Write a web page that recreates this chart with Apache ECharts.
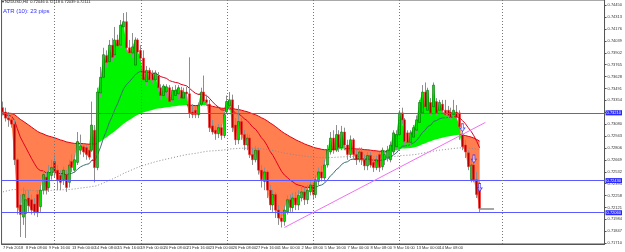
<!DOCTYPE html>
<html><head><meta charset="utf-8">
<script src="https://cdn.jsdelivr.net/npm/echarts@6/dist/echarts.min.js"></script>
<style>html,body{margin:0;padding:0;background:#fff}#c{width:625px;height:252px}</style>
</head><body><div id="c"></div>
<script>
const TITLE = '\u25BE NZDUSD,H4  0.72046 0.72118 0.72039 0.72111';
const ATR_TEXT = 'ATR (10): 23 pips';

const open = [
0.7327,0.7322,0.7315,0.7313,0.7308,0.7267,0.7215,0.7201,0.7205,0.7223,
0.7221,0.7216,0.7227,0.7213,0.7232,0.7247,0.7235,0.7249,0.7265,0.7255,
0.7249,0.7244,0.7250,0.7241,0.7265,0.7255,0.7264,0.7278,0.7282,0.7281,
0.7278,0.7278,0.7301,0.7258,0.7344,0.7362,0.7387,0.7380,0.7399,0.7388,
0.7405,0.7399,0.7420,0.7426,0.7396,0.7390,0.7376,0.7405,0.7393,0.7384,
0.7357,0.7370,0.7366,0.7359,0.7364,0.7350,0.7341,0.7345,0.7350,0.7336,
0.7341,0.7343,0.7347,0.7338,0.7345,0.7343,0.7322,0.7324,0.7319,0.7331,
0.7345,0.7336,0.7331,0.7306,0.7301,0.7297,0.7304,0.7295,0.7322,0.7329,
0.7336,0.7307,0.7290,0.7311,0.7296,0.7284,0.7292,0.7273,0.7267,0.7278,
0.7255,0.7242,0.7253,0.7232,0.7215,0.7227,0.7209,0.7200,0.7196,0.7207,
0.7221,0.7212,0.7223,0.7215,0.7223,0.7230,0.7221,0.7230,0.7238,0.7227,
0.7242,0.7253,0.7246,0.7261,0.7276,0.7292,0.7278,0.7296,0.7281,0.7299,
0.7284,0.7273,0.7290,0.7273,0.7267,0.7276,0.7267,0.7260,0.7272,0.7264,
0.7258,0.7273,0.7259,0.7267,0.7269,0.7267,0.7276,0.7282,0.7296,0.7321,
0.7313,0.7298,0.7287,0.7293,0.7301,0.7310,0.7321,0.7345,0.7324,0.7333,
0.7328,0.7334,0.7324,0.7331,0.7324,0.7324,0.7322,0.7319,0.7322,0.7321,
0.7296,0.7284,0.7275,0.7244,0.7261,0.7244,0.7235];
const high = [
0.7334,0.7327,0.7322,0.7320,0.7313,0.7269,0.7227,0.7235,0.7232,0.7232,
0.7227,0.7223,0.7232,0.7238,0.7255,0.7253,0.7261,0.7267,0.7273,0.7261,
0.7255,0.7259,0.7255,0.7267,0.7273,0.7273,0.7299,0.7296,0.7284,0.7284,
0.7283,0.7334,0.7307,0.7350,0.7374,0.7396,0.7393,0.7405,0.7407,0.7420,
0.7411,0.7428,0.7436,0.7437,0.7405,0.7413,0.7408,0.7407,0.7399,0.7393,
0.7375,0.7373,0.7370,0.7370,0.7368,0.7354,0.7354,0.7354,0.7353,0.7351,
0.7353,0.7353,0.7351,0.7350,0.7351,0.7385,0.7331,0.7329,0.7333,0.7350,
0.7364,0.7342,0.7336,0.7313,0.7306,0.7308,0.7308,0.7322,0.7341,0.7345,
0.7342,0.7315,0.7330,0.7315,0.7301,0.7297,0.7296,0.7281,0.7283,0.7281,
0.7261,0.7258,0.7255,0.7238,0.7232,0.7230,0.7215,0.7207,0.7215,0.7226,
0.7227,0.7229,0.7230,0.7232,0.7237,0.7235,0.7238,0.7244,0.7242,0.7249,
0.7258,0.7260,0.7267,0.7284,0.7299,0.7301,0.7307,0.7301,0.7306,0.7304,
0.7290,0.7295,0.7292,0.7278,0.7281,0.7281,0.7273,0.7276,0.7276,0.7269,
0.7272,0.7276,0.7281,0.7278,0.7283,0.7288,0.7301,0.7301,0.7324,0.7327,
0.7315,0.7301,0.7301,0.7307,0.7318,0.7336,0.7353,0.7356,0.7350,0.7338,
0.7356,0.7338,0.7336,0.7336,0.7336,0.7329,0.7327,0.7336,0.7330,0.7324,
0.7301,0.7290,0.7278,0.7267,0.7267,0.7253,0.7242];
const low = [
0.7318,0.7311,0.7305,0.7304,0.7261,0.7204,0.7178,0.7192,0.7177,0.7207,
0.7204,0.7203,0.7201,0.7207,0.7227,0.7227,0.7230,0.7244,0.7246,0.7232,
0.7232,0.7238,0.7230,0.7235,0.7253,0.7252,0.7261,0.7273,0.7270,0.7267,
0.7267,0.7276,0.7241,0.7255,0.7339,0.7359,0.7373,0.7375,0.7380,0.7385,
0.7393,0.7396,0.7407,0.7391,0.7382,0.7384,0.7373,0.7388,0.7380,0.7356,
0.7353,0.7354,0.7354,0.7352,0.7345,0.7336,0.7338,0.7339,0.7331,0.7333,
0.7336,0.7336,0.7334,0.7333,0.7337,0.7315,0.7315,0.7315,0.7315,0.7329,
0.7331,0.7329,0.7299,0.7296,0.7290,0.7292,0.7290,0.7292,0.7320,0.7324,
0.7299,0.7284,0.7285,0.7290,0.7278,0.7278,0.7269,0.7261,0.7264,0.7250,
0.7235,0.7232,0.7223,0.7209,0.7207,0.7200,0.7192,0.7189,0.7191,0.7204,
0.7207,0.7207,0.7209,0.7209,0.7219,0.7215,0.7216,0.7226,0.7221,0.7223,
0.7237,0.7242,0.7242,0.7258,0.7273,0.7274,0.7276,0.7276,0.7278,0.7278,
0.7267,0.7269,0.7267,0.7261,0.7264,0.7261,0.7255,0.7255,0.7258,0.7253,
0.7255,0.7253,0.7255,0.7261,0.7265,0.7264,0.7273,0.7278,0.7293,0.7308,
0.7284,0.7282,0.7283,0.7290,0.7298,0.7307,0.7319,0.7324,0.7320,0.7318,
0.7324,0.7318,0.7321,0.7321,0.7315,0.7315,0.7313,0.7315,0.7313,0.7290,
0.7278,0.7269,0.7255,0.7241,0.7241,0.7223,0.7206];
const close = [
0.7322,0.7315,0.7313,0.7308,0.7267,0.7212,0.7204,0.7227,0.7221,0.7214,
0.7209,0.7207,0.7206,0.7232,0.7250,0.7232,0.7253,0.7258,0.7253,0.7244,
0.7241,0.7255,0.7235,0.7261,0.7258,0.7267,0.7288,0.7283,0.7276,0.7273,
0.7270,0.7307,0.7258,0.7345,0.7362,0.7388,0.7379,0.7399,0.7385,0.7405,
0.7398,0.7422,0.7426,0.7396,0.7390,0.7397,0.7405,0.7391,0.7384,0.7359,
0.7370,0.7359,0.7359,0.7367,0.7350,0.7341,0.7352,0.7351,0.7334,0.7347,
0.7347,0.7350,0.7338,0.7345,0.7343,0.7321,0.7319,0.7319,0.7330,0.7345,
0.7334,0.7333,0.7304,0.7299,0.7297,0.7304,0.7295,0.7319,0.7334,0.7336,
0.7304,0.7290,0.7311,0.7296,0.7284,0.7292,0.7273,0.7267,0.7278,0.7255,
0.7244,0.7253,0.7232,0.7215,0.7227,0.7209,0.7200,0.7196,0.7209,0.7221,
0.7212,0.7223,0.7215,0.7226,0.7230,0.7221,0.7232,0.7238,0.7227,0.7244,
0.7253,0.7246,0.7261,0.7278,0.7292,0.7278,0.7296,0.7281,0.7299,0.7284,
0.7273,0.7290,0.7273,0.7267,0.7276,0.7267,0.7260,0.7272,0.7261,0.7258,
0.7267,0.7258,0.7278,0.7273,0.7278,0.7284,0.7298,0.7296,0.7321,0.7313,
0.7288,0.7287,0.7298,0.7304,0.7313,0.7333,0.7345,0.7328,0.7347,0.7321,
0.7353,0.7321,0.7333,0.7324,0.7319,0.7318,0.7316,0.7324,0.7316,0.7305,
0.7282,0.7276,0.7259,0.7261,0.7244,0.7227,0.7211];

const timeLabels = ['7 Feb 2018','8 Feb 08:00','9 Feb 16:00','13 Feb 00:00','14 Feb 08:00','15 Feb 16:00',
'19 Feb 00:00','20 Feb 08:00','21 Feb 16:00','23 Feb 00:00','26 Feb 08:00','27 Feb 16:00','1 Mar 00:00',
'2 Mar 08:00','5 Mar 16:00','7 Mar 00:00','8 Mar 08:00','9 Mar 16:00','13 Mar 00:00','14 Mar 08:00','15 Mar 16:00'];
const yTicks = [0.74450,0.74313,0.74176,0.74039,0.73902,0.73765,0.73628,0.73491,0.73354,0.73217,0.73080,
0.72943,0.72806,0.72669,0.72532,0.72395,0.72258,0.72121,0.71984,0.71847,0.71710];
const hLevels = [0.7321, 0.7243, 0.7206];
const lastPrice = 0.72111;
const separators = [18, 48, 78, 108, 138, 174];
const trendX = [98, 168];
const trendY = [0.7189, 0.7310];
const arrowX = [160, 164, 166];
const arrowY = [0.7304, 0.7268, 0.7235];
// moving-average seeds read at the left edge of the picture
const slowSeed = 0.7321, slowPeriod = 80;
const midSeed = 0.7319, midPeriod = 20;
const longSeed = 0.7230, longPeriod = 200;

const SLOTS = 210, LABEL_STEP = 8;
function ema(src, seed, period) {
  const a = 2 / (period + 1); const out = []; let v = seed;
  for (let i = 0; i < src.length; i++) { if (i > 0) v = v + a * (src[i] - v); out.push(v); }
  return out;
}
const slow = ema(close, slowSeed, slowPeriod);
const mid = ema(close, midSeed, midPeriod);
const longMa = ema(close, longSeed, longPeriod);
const cats = Array.from({length: SLOTS}, (_, i) => (i % LABEL_STEP === 0 && i / LABEL_STEP < timeLabels.length) ? timeLabels[i / LABEL_STEP] : '');
const isLabel = (i) => i % LABEL_STEP === 0 && i / LABEL_STEP < timeLabels.length;

const base = close.map((c, i) => Math.min(c, slow[i]));
const gUp = close.map((c, i) => Math.max(c - slow[i], 0));
const oDn = close.map((c, i) => Math.max(slow[i] - c, 0));
const below = close.map((c, i) => c < slow[i]);
const slowRed = slow.map((v, i) => (below[i] || below[i - 1] || below[i + 1]) ? v : '-');
const upSeg = mid.map((v, i) => i > 0 && v >= mid[i - 1]);
const midUp = mid.map((v, i) => (upSeg[i] || upSeg[i + 1]) ? v : '-');
const midDn = mid.map((v, i) => ((i > 0 && !upSeg[i]) || (i + 1 < mid.length && !upSeg[i + 1])) ? v : '-');

const FONT = 'Liberation Sans';
const priceLabel = (bg) => ({show: true, position: 'end', distance: 1, formatter: (p) => Number(p.value).toFixed(5),
  fontSize: 4, color: '#fff', backgroundColor: bg, padding: [1, 1, 0, 1], fontFamily: FONT});
const chart = echarts.init(document.getElementById('c'), null, {renderer: 'canvas'});
chart.setOption({
  animation: false,
  backgroundColor: '#fff',
  title: [
    {text: TITLE, left: 2, top: 0, padding: 0, textStyle: {fontSize: 4, fontWeight: 'normal', color: '#222', fontFamily: FONT}},
    {text: ATR_TEXT, left: 3, top: 8, padding: 0, textStyle: {fontSize: 6, fontWeight: 'normal', color: '#3030ff', fontFamily: FONT}}
  ],
  grid: {left: 0, top: 0, right: 16, bottom: 8, show: true, borderColor: '#555', borderWidth: 1},
  xAxis: {
    type: 'category', data: cats, boundaryGap: true,
    axisLine: {lineStyle: {color: '#555'}},
    axisTick: {alignWithLabel: true, interval: (i) => isLabel(i), length: 3, lineStyle: {color: '#555'}},
    axisLabel: {interval: (i) => isLabel(i), fontSize: 4, color: '#333', align: 'left', margin: 2, fontFamily: FONT}
  },
  yAxis: {
    type: 'value', position: 'right', min: 0.7170, max: 0.7451,
    axisLine: {show: true, lineStyle: {color: '#555'}},
    axisTick: {show: true, length: 2, customValues: yTicks, lineStyle: {color: '#555'}},
    axisLabel: {customValues: yTicks, fontSize: 4, color: '#333', margin: 3, fontFamily: FONT, formatter: (v) => v.toFixed(5)},
    splitLine: {show: false}
  },
  series: [
    {type: 'line', name: 'base', data: base, stack: 'cloud', symbol: 'none', lineStyle: {opacity: 0}, silent: true, z: 1},
    {type: 'line', name: 'up', data: gUp, stack: 'cloud', symbol: 'none', lineStyle: {width: 0, opacity: 0}, areaStyle: {color: '#00f500', opacity: 1}, silent: true, z: 1},
    {type: 'line', name: 'dn', data: oDn, stack: 'cloud', symbol: 'none', lineStyle: {width: 0, opacity: 0}, areaStyle: {color: '#ff7f50', opacity: 1}, silent: true, z: 1},
    {type: 'line', name: 'slowRed', data: slowRed, symbol: 'none', lineStyle: {color: '#e00010', width: 1}, silent: true, z: 2},
    {type: 'line', name: 'midUp', data: midUp, symbol: 'none', lineStyle: {color: '#3d7070', width: 1}, silent: true, z: 2},
    {type: 'line', name: 'midDn', data: midDn, symbol: 'none', lineStyle: {color: '#e00020', width: 1}, silent: true, z: 2},
    {type: 'line', name: 'long', data: longMa, symbol: 'none', lineStyle: {color: '#8a8a8a', width: 1, type: [1, 2]}, silent: true, z: 2},
    {
      type: 'line', name: 'objects', data: close, symbol: 'none', lineStyle: {opacity: 0}, silent: true, z: 2,
      markLine: {
        silent: true, symbol: ['none', 'none'], animation: false, precision: 5,
        data: [
          ...hLevels.map(v => ({yAxis: v, lineStyle: {color: '#5a5aff', width: 1, type: 'solid'}, label: priceLabel('#2828ff')})),
          {yAxis: lastPrice, lineStyle: {opacity: 0}, label: priceLabel('#000')},
          ...separators.map(v => ({xAxis: v, lineStyle: {color: '#777', width: 1, type: [1, 2]}, label: {show: false}})),
          [{coord: [trendX[0], trendY[0]], lineStyle: {color: '#f070f0', width: 1, type: 'solid'}, label: {show: false}}, {coord: [trendX[1], trendY[1]]}],
          [{coord: [166, lastPrice], lineStyle: {color: '#888', width: 1.5, type: 'solid'}, label: {show: false}}, {coord: [171, lastPrice]}]
        ]
      }
    },
    {
      type: 'custom', name: 'candles', z: 3, silent: true,
      data: open.map((o, i) => [i, o, close[i], low[i], high[i]]),
      encode: {x: 0, y: [1, 2, 3, 4]},
      renderItem: function (params, api) {
        const i = api.value(0), o = api.value(1), c = api.value(2), l = api.value(3), h = api.value(4);
        const pO = api.coord([i, o]), pC = api.coord([i, c]), pL = api.coord([i, l]), pH = api.coord([i, h]);
        const cx = Math.floor(pO[0]);
        const top = Math.min(pO[1], pC[1]), bot = Math.max(pO[1], pC[1]);
        const bull = c >= o;
        return {type: 'group', children: [
          {type: 'line', shape: {x1: cx + 0.5, y1: pH[1], x2: cx + 0.5, y2: pL[1]}, style: {stroke: '#8e8e8e', lineWidth: 1}},
          {type: 'rect', shape: {x: cx - 0.5, y: top, width: 2, height: Math.max(bot - top, 1)},
            style: {fill: bull ? '#00e000' : '#b00000', stroke: bull ? '#005a00' : '#ff2a2a', lineWidth: 0.5}}
        ]};
      }
    },
    {
      type: 'scatter', name: 'arrows', z: 5, silent: true,
      data: arrowX.map((x, i) => [x, arrowY[i]]),
      symbol: 'path://M3,0 L7,0 L7,6 L10,6 L5,11 L0,6 L3,6 Z', symbolSize: [5, 8],
      itemStyle: {color: '#e6e6ff', borderColor: '#2020ff', borderWidth: 0.8}
    }
  ]
});
</script></body></html>
